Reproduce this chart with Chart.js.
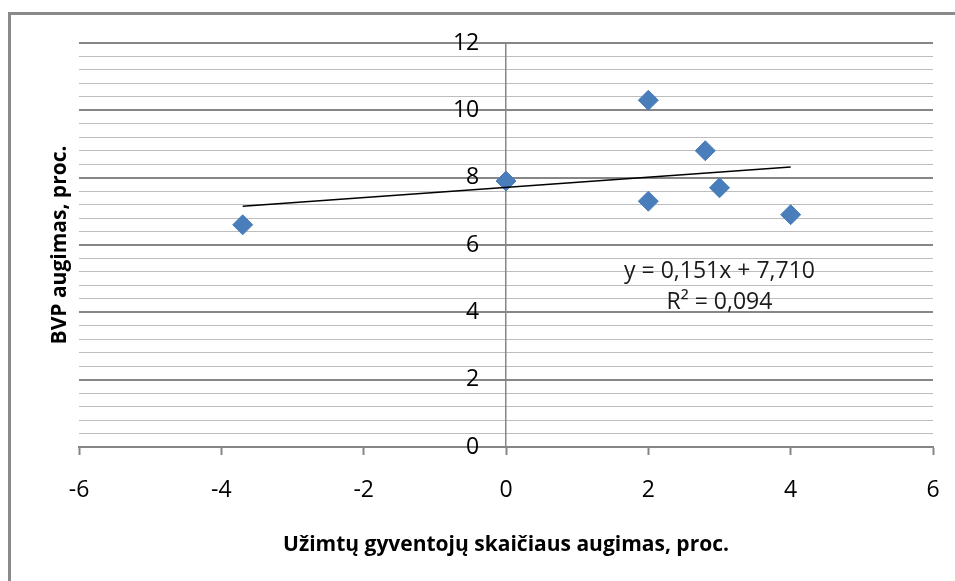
<!DOCTYPE html>
<html>
<head>
<meta charset="utf-8">
<script src="https://cdn.jsdelivr.net/npm/chart.js@4/dist/chart.umd.min.js"></script>
<style>
  body { margin: 0; background: #fff; }
  #wrap { width: 955px; height: 581px; }
</style>
</head>
<body>
<div id="wrap"><canvas id="chart" width="955" height="581"></canvas></div>
<script>
// Data
const employmentGrowth = [-3.7, 0, 2, 2.8, 3, 2, 4];
const gdpGrowth = [6.6, 7.9, 10.3, 8.8, 7.7, 7.3, 6.9];

// Trend line (as printed on the chart)
const trendSlope = 0.151;
const trendIntercept = 7.710;
const trendLabel = ['y = 0,151x + 7,710', 'R² = 0,094'];

// Axis ranges
const xRange = [-6, 6];
const yRange = [0, 12];

const FONT = '"Open Sans", sans-serif';

// Build points
const points = employmentGrowth.map((x, i) => ({ x: x, y: gdpGrowth[i] }));
const xMin = Math.min(...employmentGrowth);
const xMax = Math.max(...employmentGrowth);
const trendPoints = [xMin, xMax].map(x => ({ x: x, y: trendSlope * x + trendIntercept }));

function isMajor(v) {
  return Math.abs(v / 2 - Math.round(v / 2)) < 1e-6;
}

// Frame + white background
const framePlugin = {
  id: 'frame',
  beforeDraw(chart) {
    const ctx = chart.ctx;
    ctx.save();
    ctx.fillStyle = '#fff';
    ctx.fillRect(0, 0, chart.width, chart.height);
    ctx.strokeStyle = '#8a8a8a';
    ctx.lineWidth = 3;
    ctx.strokeRect(9.5, 13.5, chart.width + 20, chart.height + 20);
    ctx.restore();
  }
};

// Equation text next to the trend line
const equationPlugin = {
  id: 'equation',
  afterDatasetsDraw(chart) {
    const ctx = chart.ctx;
    const xs = chart.scales.x, ys = chart.scales.y;
    ctx.save();
    ctx.font = '23px ' + FONT;
    ctx.fillStyle = '#1a1a1a';
    ctx.textAlign = 'center';
    ctx.textBaseline = 'middle';
    ctx.fillText(trendLabel[0], xs.getPixelForValue(3.0), ys.getPixelForValue(5.22));
    ctx.fillText(trendLabel[1], xs.getPixelForValue(3.0), ys.getPixelForValue(4.3));
    ctx.restore();
  }
};

new Chart(document.getElementById('chart'), {
  type: 'scatter',
  data: {
    datasets: [{
      type: 'line',
      data: trendPoints,
      borderColor: '#000',
      borderWidth: 1.5,
      pointRadius: 0,
      fill: false,
      order: 0
    }, {
      data: points,
      pointStyle: 'rectRot',
      pointRadius: 10,
      pointHoverRadius: 10,
      backgroundColor: '#4a7ebb',
      borderColor: '#4a7ebb',
      borderWidth: 1,
      order: 1
    }]
  },
  options: {
    responsive: false,
    animation: false,
    layout: { padding: { top: 43, right: 22, left: 0, bottom: 0 } },
    plugins: {
      legend: { display: false },
      tooltip: { enabled: false }
    },
    scales: {
      x: {
        type: 'linear',
        position: 'bottom',
        min: xRange[0],
        max: xRange[1],
        afterFit(scale) {
          scale.height = 134;
          // end labels fit inside the margins already
          scale.paddingLeft = 0;
          scale.paddingRight = 0;
        },
        ticks: {
          stepSize: 2,
          padding: 22,
          color: '#000',
          font: { family: FONT, size: 23 }
        },
        grid: {
          drawOnChartArea: false,
          drawTicks: true,
          tickLength: 8,
          tickColor: '#868686',
          tickWidth: 2
        },
        border: { display: true, color: '#868686', width: 2 },
        title: {
          display: true,
          text: 'Užimtų gyventojų skaičiaus augimas, proc.',
          color: '#000',
          font: { family: FONT, size: 21, weight: 'bold' },
          padding: { top: 0, bottom: 23 }
        }
      },
      y: {
        type: 'linear',
        position: { x: 0 },
        min: yRange[0],
        max: yRange[1],
        // axis sits inside the plot, it should not take layout width
        afterFit(scale) { scale.width = 0; },
        ticks: {
          stepSize: 0.4,
          autoSkip: false,
          color: '#000',
          font: { family: FONT, size: 23 },
          // trailing spaces keep the labels off the axis line, as in the original
          callback: v => isMajor(v) ? String(Math.round(v)) + '\u2002\u2002\u2009' : ''
        },
        grid: {
          drawTicks: false,
          color: c => (c.tick && isMajor(c.tick.value)) ? '#868686' : '#bdbdbd',
          lineWidth: c => (c.tick && isMajor(c.tick.value)) ? 2 : 1
        },
        border: { display: true, color: '#868686', width: 1.5 }
      },
      yTitle: {
        type: 'linear',
        position: 'left',
        afterFit(scale) { scale.width = 79; },
        ticks: { display: false },
        grid: { display: false },
        border: { display: false },
        title: {
          display: true,
          text: 'BVP augimas, proc.',
          color: '#000',
          font: { family: FONT, size: 21, weight: 'bold' },
          padding: { top: 47, bottom: 0 }
        }
      }
    }
  },
  plugins: [framePlugin, equationPlugin]
});
</script>
</body>
</html>
